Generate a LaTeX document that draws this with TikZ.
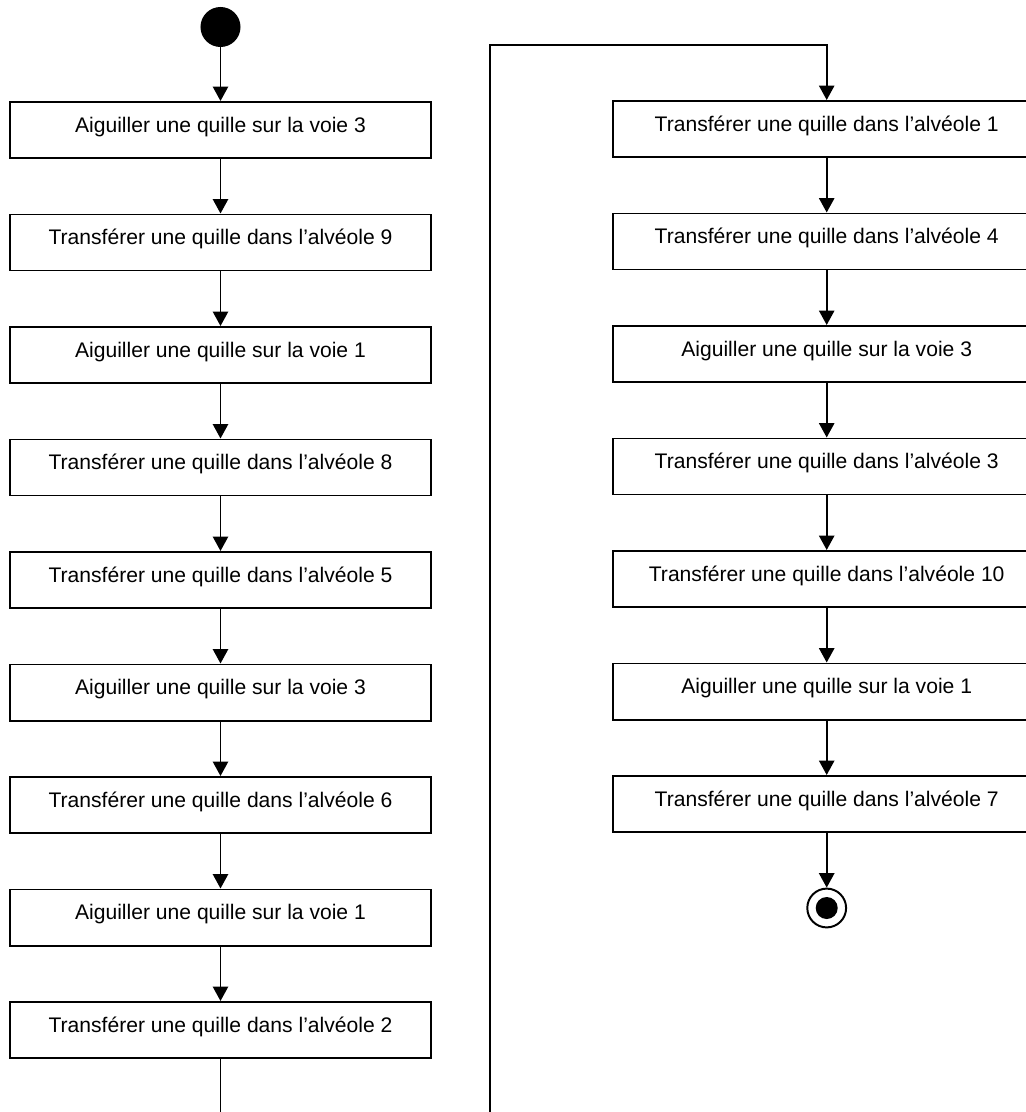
\documentclass[tikz,border=0pt]{standalone}
\usepackage{fontspec}
\setmainfont{Liberation Sans}
\usepackage{pgf,tikz}
\usetikzlibrary{arrows.meta}

\tikzset{
  etape/.style={draw, line width=1.4pt, minimum width=10.525cm, minimum height=1.4cm,
    text height=0.4cm, text depth=0.3cm, font=\fontsize{15}{18}\selectfont},
  fleche/.style={line width=1.4pt, -{Triangle[length=0.36cm, width=0.38cm]}}
}

\begin{document}
\begin{tikzpicture}[x=0.025cm, y=-0.025cm]
\useasboundingbox (0,0) rectangle (1026,1112);
\clip (0,0) rectangle (1026,1112);
\node[circle, fill, inner sep=0, minimum size=1cm] (debut) at (220.5, 27) {};
\node[etape] (l1) at (220.5, 130) {Aiguiller une quille sur la voie 3};
\node[etape] (l2) at (220.5, 242.5) {Transférer une quille dans l’alvéole 9};
\node[etape] (l3) at (220.5, 355) {Aiguiller une quille sur la voie 1};
\node[etape] (l4) at (220.5, 467.5) {Transférer une quille dans l’alvéole 8};
\node[etape] (l5) at (220.5, 580) {Transférer une quille dans l’alvéole 5};
\node[etape] (l6) at (220.5, 692.5) {Aiguiller une quille sur la voie 3};
\node[etape] (l7) at (220.5, 805) {Transférer une quille dans l’alvéole 6};
\node[etape] (l8) at (220.5, 917.5) {Aiguiller une quille sur la voie 1};
\node[etape] (l9) at (220.5, 1030) {Transférer une quille dans l’alvéole 2};
\node[etape, minimum width=10.675cm] (r1) at (826.7, 129) {Transférer une quille dans l’alvéole 1};
\node[etape, minimum width=10.675cm] (r2) at (826.7, 241.5) {Transférer une quille dans l’alvéole 4};
\node[etape, minimum width=10.675cm] (r3) at (826.7, 354) {Aiguiller une quille sur la voie 3};
\node[etape, minimum width=10.675cm] (r4) at (826.7, 466.5) {Transférer une quille dans l’alvéole 3};
\node[etape, minimum width=10.675cm] (r5) at (826.7, 579) {Transférer une quille dans l’alvéole 10};
\node[etape, minimum width=10.675cm] (r6) at (826.7, 691.5) {Aiguiller une quille sur la voie 1};
\node[etape, minimum width=10.675cm] (r7) at (826.7, 804) {Transférer une quille dans l’alvéole 7};
\node[circle, draw, line width=1.4pt, inner sep=0, minimum size=0.97cm] (fin) at (826.7, 908) {};
\node[circle, fill, inner sep=0, minimum size=0.55cm] (finpoint) at (fin) {};
\coordinate (bas) at (490, 1150);
\coordinate (haut) at (490, 45);
\draw[fleche] (debut) -- (l1);
\foreach \a/\b in {l1/l2, l2/l3, l3/l4, l4/l5, l5/l6, l6/l7, l7/l8, l8/l9} \draw[fleche] (\a) -- (\b);
\draw[fleche] (l9) -- (l9 |- bas) -- (bas) -- (haut) -- (r1 |- haut) -- (r1);
\foreach \a/\b in {r1/r2, r2/r3, r3/r4, r4/r5, r5/r6, r6/r7, r7/fin} \draw[fleche] (\a) -- (\b);

\end{tikzpicture}
\end{document}
